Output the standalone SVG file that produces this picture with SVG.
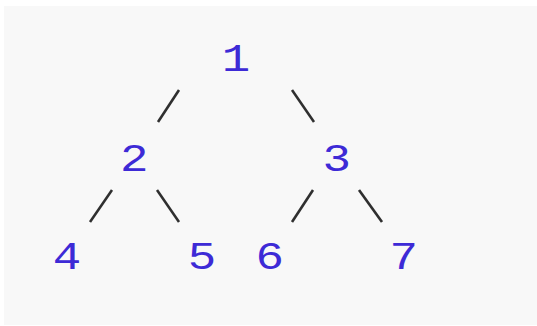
<svg xmlns="http://www.w3.org/2000/svg" width="537" height="326" viewBox="0 0 537 326">
<style>
.n{font-family:"Liberation Mono",monospace;font-size:38px;fill:#3d2ad6;text-anchor:middle}
.e{stroke:#2f2f2f;stroke-width:2.6;stroke-linecap:butt}
</style>
<rect x="4" y="6" width="533" height="319" fill="#f8f8f8"/>
<g id="connectors">
<line class="e" x1="179" y1="90" x2="158" y2="122"/>
<line class="e" x1="292" y1="90" x2="314" y2="122"/>
<line class="e" x1="112" y1="190" x2="90" y2="222"/>
<line class="e" x1="157" y1="190" x2="179" y2="222"/>
<line class="e" x1="313" y1="190" x2="292" y2="222"/>
<line class="e" x1="359" y1="190" x2="382" y2="222"/>
</g>
<g transform="scale(1.25,1)">
<g id="node1"><text class="n" x="188.8" y="71">1</text></g>
<g id="node2"><text class="n" x="107.4" y="171">2</text></g>
<g id="node3"><text class="n" x="269.5" y="171">3</text></g>
<g id="node4"><text class="n" x="53.6" y="269">4</text></g>
<g id="node5"><text class="n" x="161.6" y="269">5</text></g>
<g id="node6"><text class="n" x="215.8" y="269">6</text></g>
<g id="node7"><text class="n" x="323" y="269">7</text></g>
</g>
</svg>
